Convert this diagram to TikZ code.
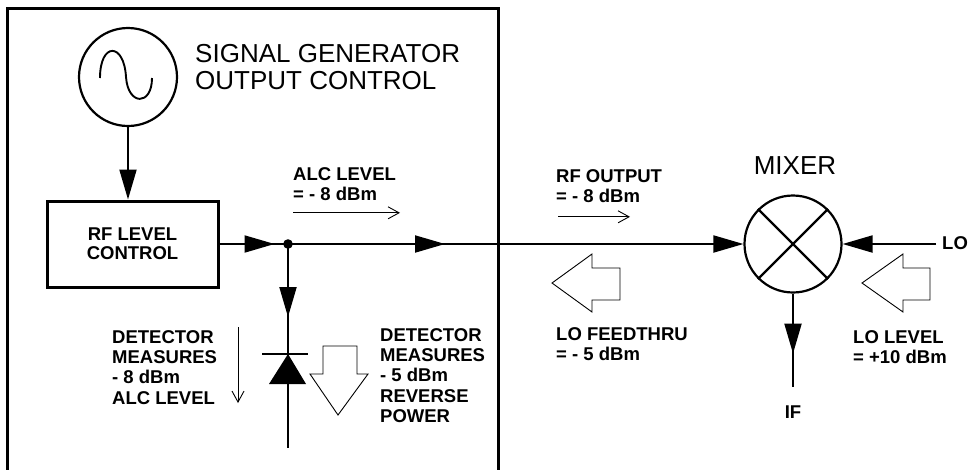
\documentclass[tikz,border=0pt]{standalone}
\usepackage{fontspec}
\setmainfont{Liberation Sans}
\usetikzlibrary{arrows.meta,decorations.markings}

\begin{document}
\begin{tikzpicture}[x=1pt,y=-1pt,
                    frame/.style={line width=3pt},
                    signal/.style={line width=2pt},
                    tip/.style={-{Triangle[length=30pt,width=17pt]}},
                    mid tip/.style={postaction={decorate},
                      decoration={markings,mark=at position #1 with {\arrow{Triangle[length=30pt,width=17pt]}}}},
                    level arrow/.style={line width=0.9pt,-{Straight Barb[length=11pt,width=12pt]}},
                    hollow/.style={line width=0.9pt,fill=white,line join=miter},
                    big label/.style={font=\fontsize{26}{27}\selectfont,inner sep=0pt,align=left},
                    small label/.style={font=\fontsize{18.5}{20.3}\selectfont\bfseries,inner sep=0pt,align=left}]
            \useasboundingbox (0,0) rectangle (968,469);

            \coordinate (junc) at (288,244);
            \coordinate (diode k) at (288,354);
            \coordinate (diode a) at (288,384);
            \coordinate (det end) at (288,448);
            \coordinate (lo in) at (936,244);
            \coordinate (if out) at (793,387);

            % generator enclosure, open at the bottom
            \draw[frame] (7,480) -- (7,8) -- (498,8) -- (498,480);

            \node[draw,circle,line width=2.2pt,minimum size=98pt,inner sep=0pt] (osc) at (128,77) {};
            \draw[line width=1.9pt] (100,78) .. controls (100,42) and (124,42) .. (126,77)
                                              .. controls (128,106) and (152,106) .. (152,78);
            \node[big label,anchor=north west] (title) at (195,44) {SIGNAL GENERATOR\\OUTPUT CONTROL};

            \node[draw,frame,minimum width=171pt,minimum height=86pt,align=center,
                  font=\fontsize{18.5}{19}\selectfont\bfseries] (rflc) at (132.5,244) {RF LEVEL\\CONTROL};

            \node[draw,circle,line width=2.2pt,minimum size=97pt,inner sep=0pt] (mixer) at (793,244) {};
            \draw[line width=2.2pt] (mixer.north west) -- (mixer.south east)
                                    (mixer.north east) -- (mixer.south west);
            \node[big label,anchor=base] (mixer label) at (795,174) {MIXER};

            % signal path
            \draw[signal,tip] (osc.south) -- (osc.south |- rflc.north);
            \draw[signal,mid tip=55pt] (rflc.east |- junc) -- (junc);
            \draw[signal,tip,mid tip=157pt] (junc) -- (mixer.west);
            \fill (junc) circle[radius=4.8pt];
            \draw[signal,mid tip=73pt] (junc) -- (diode k);
            \draw[signal,tip] (lo in) -- (mixer.east);
            \draw[signal,mid tip=60pt] (mixer.south) -- (if out);

            % detector diode
            \draw[line width=1.5pt] ([xshift=-26pt]diode k) -- ([xshift=20pt]diode k);
            \fill (diode k) -- ([xshift=-19pt]diode a) -- ([xshift=18pt]diode a) -- cycle;
            \draw[line width=1.2pt] (diode a) -- (det end);

            \node[small label,anchor=base west] (lo label) at (942,249) {LO};
            \node[small label,anchor=base] (if label) at (793,418) {IF};

            \node[small label,anchor=north west] (alc label) at (293,167) {ALC LEVEL\\= - 8 dBm};
            \draw[level arrow] ([yshift=-12pt]alc label.south west) -- ++(107,0);
            \node[small label,anchor=north west] (rfout label) at (556,169) {RF OUTPUT\\= - 8 dBm};
            \draw[level arrow] ([xshift=2pt,yshift=-14pt]rfout label.south west) -- ++(72,0);

            \node[small label,anchor=north west] (det alc) at (112,330) {DETECTOR\\MEASURES\\- 8 dBm\\ALC LEVEL};
            \draw[level arrow] (238,327) -- (238,403);
            \node[small label,anchor=north west] (det rev) at (380,328) {DETECTOR\\MEASURES\\- 5 dBm\\REVERSE\\POWER};
            \draw[hollow] (338,415) -- (368,374) -- (357,374) -- (357,346) -- (323,346) -- (323,374) -- (310,374) -- cycle;

            \node[small label,anchor=north west] (feed label) at (556,327) {LO FEEDTHRU\\= - 5 dBm};
            \draw[hollow] (552,283) -- (592,254) -- (592,268) -- (620,268) -- (620,300) -- (592,300) -- (592,312) -- cycle;
            \node[small label,anchor=north west] (lolvl label) at (853,330) {LO LEVEL\\= +10 dBm};
            \draw[hollow] (862,283) -- (903,254) -- (903,268) -- (930,268) -- (930,300) -- (903,300) -- (903,312) -- cycle;
        \end{tikzpicture}
\end{document}
